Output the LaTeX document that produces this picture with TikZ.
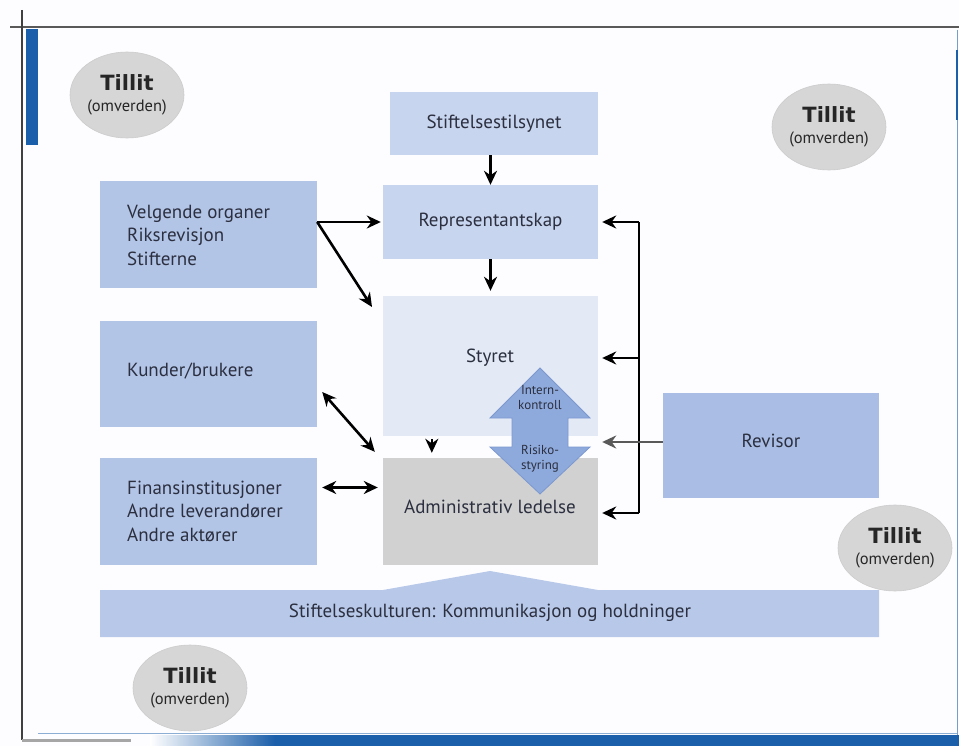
\documentclass[tikz,border=0pt]{standalone}
\usepackage{fontspec}
\setmainfont{PT Sans}
\newfontfamily\tillitfont{DejaVu Sans}
\usetikzlibrary{arrows.meta,calc,shapes.geometric}

\definecolor{txt}{HTML}{2B2F3F}
\definecolor{paleblue}{HTML}{C8D5EE}
\definecolor{midblue}{HTML}{B3C5E7}
\definecolor{revblue}{HTML}{AABEE5}
\definecolor{boardblue}{HTML}{E3E9F5}
\definecolor{admgray}{HTML}{D1D1D1}
\definecolor{barblue}{HTML}{B7C8E8}
\definecolor{arrowblue}{HTML}{8EAADC}
\definecolor{arrowedge}{HTML}{7C98CF}
\definecolor{trustgray}{HTML}{D6D6D6}
\definecolor{frameblue}{HTML}{1B5EA9}

\tikzset{
  box/.style 2 args={rectangle, inner sep=0pt, minimum width=#1, minimum height=#2},
  lbl/.style={text=txt, font=\fontsize{19}{23.5}\selectfont, inner sep=0pt},
  lefttext/.style={lbl, align=left, anchor=west},
  arr/.style={draw=black, line width=2.6pt, -{Stealth[length=14pt,width=13pt]}},
  darr/.style={draw=black, line width=2.6pt, {Stealth[length=14pt,width=13pt]}-{Stealth[length=14pt,width=13pt]}},
  trust/.style={ellipse, fill=trustgray, draw=black!20, line width=0.6pt,
    minimum width=114pt, minimum height=86pt, inner sep=0pt, align=center, text=black!85,
    font=\fontsize{16}{19}\selectfont},
}

\newcommand{\trusttext}{{\tillitfont\bfseries\fontsize{21}{19}\selectfont Tillit}\\[2pt]{\fontsize{16.5}{19}\selectfont (omverden)}}

\begin{document}
\begin{tikzpicture}[x=1pt,y=-1pt]
  \useasboundingbox (0,0) rectangle (959,746);
  \fill[white!98!blue!40] (0,0) rectangle (959,746);

  % page frame
  \draw[gray!70!black, line width=2.5pt] (10,27) -- (959,27);
  \draw[gray!50!black, line width=1.8pt] (22,10) -- (22,740);
  \fill[frameblue] (26,29) rectangle (38,145);
  \draw[gray!70, line width=3pt] (22,740) -- (131,740);
  \draw[frameblue!50, line width=0.6pt] (38,733) -- (957,733);
  \shade[left color=white, right color=frameblue] (150,735) rectangle (275,746);
  \fill[frameblue] (275,735) rectangle (959,746);
  \draw[frameblue!60, line width=1pt] (957,30) -- (957,735);
  \draw[frameblue, line width=1.5pt] (957,50) -- (957,120);

  % culture bar with hump under management
  \fill[barblue] (100,590) -- (383,590) -- (490,571) -- (598,590) -- (879,590)
    -- (879,637) -- (100,637) -- cycle;
  \node[lbl] (culture) at (490,613) {Stiftelseskulturen: Kommunikasjon og holdninger};

  % central column
  \node[box={208pt}{63pt}, fill=paleblue] (stift) at (494,123.5) {};
  \node[lbl] (stiftl) at (stift) {Stiftelsestilsynet};
  \node[box={215pt}{74pt}, fill=paleblue] (rep) at (490.5,222) {};
  \node[lbl] (repl) at (rep) {Representantskap};
  \node[box={215pt}{140pt}, fill=boardblue] (styret) at (490.5,366) {};
  \node[lbl] (styretl) at (490,358) {Styret};
  \node[box={215pt}{107pt}, fill=admgray] (adm) at (490.5,511.5) {};
  \node[lbl] (adml) at (490,507) {Administrativ ledelse};

  % left column
  \node[box={217pt}{107pt}, fill=midblue] (velg) at (208.5,234.5) {};
  \node[lefttext] (velgl) at (127,235) {Velgende organer\\Riksrevisjon\\Stifterne};
  \node[box={217pt}{106pt}, fill=midblue] (kunder) at (208.5,374) {};
  \node[lefttext] (kunderl) at (127,371) {Kunder/brukere};
  \node[box={217pt}{107pt}, fill=midblue] (finans) at (208.5,511.5) {};
  \node[lefttext] (finansl) at (127,511) {Finansinstitusjoner\\Andre leverandører\\Andre aktører};

  % auditor
  \node[box={216pt}{105pt}, fill=revblue] (revisor) at (771,445.5) {};
  \node[lbl] (revisorl) at (771,441) {Revisor};

  % internal control / risk management double arrow
  \fill[arrowblue, draw=arrowedge, line width=0.8pt]
    (540,368) -- (590,418) -- (568,418) -- (568,447) -- (590,447) -- (540,494)
    -- (490,447) -- (512,447) -- (512,418) -- (490,418) -- cycle;
  \node[text=txt, font=\fontsize{13}{15}\selectfont, align=center, inner sep=0pt]
    (intern) at (540,398) {Intern-\\kontroll};
  \node[text=txt, font=\fontsize{13}{15}\selectfont, align=center, inner sep=0pt]
    (risk) at (540,459) {Risiko-\\styring};

  % trust ellipses
  \node[trust] (t1) at (127,95) {\trusttext};
  \node[trust] (t2) at (829,127) {\trusttext};
  \node[trust] (t3) at (895,548) {\trusttext};
  \node[trust] (t4) at (190,688) {\trusttext};

  % vertical flow
  \draw[arr] (stift.south -| rep.south) -- (rep.north);
  \draw[arr, shorten >=5pt] (rep.south) -- (styret.north);
  \draw[arr] ($(styret.south west)+(49,3)$) -- ($(adm.north west)+(49,-5)$);

  % left connections
  \coordinate (vo) at (velg.east |- rep.west);
  \coordinate (vd) at (372,307);
  \draw[arr, shorten >=2pt] (vo) -- (rep.west);
  \draw[arr] (vo) -- (vd);
  \draw[darr] ($(kunder.east)+(5,18)$) -- ($(adm.north west)+(-8,-6)$);
  \draw[darr] ($(finans.east)+(5,-24)$) -- ($(adm.west)+(-5,-24)$);

  % right-hand bus
  \coordinate (bt) at ($(rep.east)+(41,0)$);
  \coordinate (bb) at (bt |- 0,513);
  \draw[black, line width=2.4pt] (bt) -- (bb);
  \draw[arr, shorten >=4pt] (bt) -- (rep.east);
  \draw[arr, shorten >=4pt] (bt |- styretl) -- (styret.east |- styretl);
  \draw[arr, shorten >=4pt] (bb) -- (adm.east |- bb);
  \draw[arr, draw=black!65, shorten >=4pt] (revisor.west |- 0,442) -- (styret.east |- 0,442);
\end{tikzpicture}
\end{document}
